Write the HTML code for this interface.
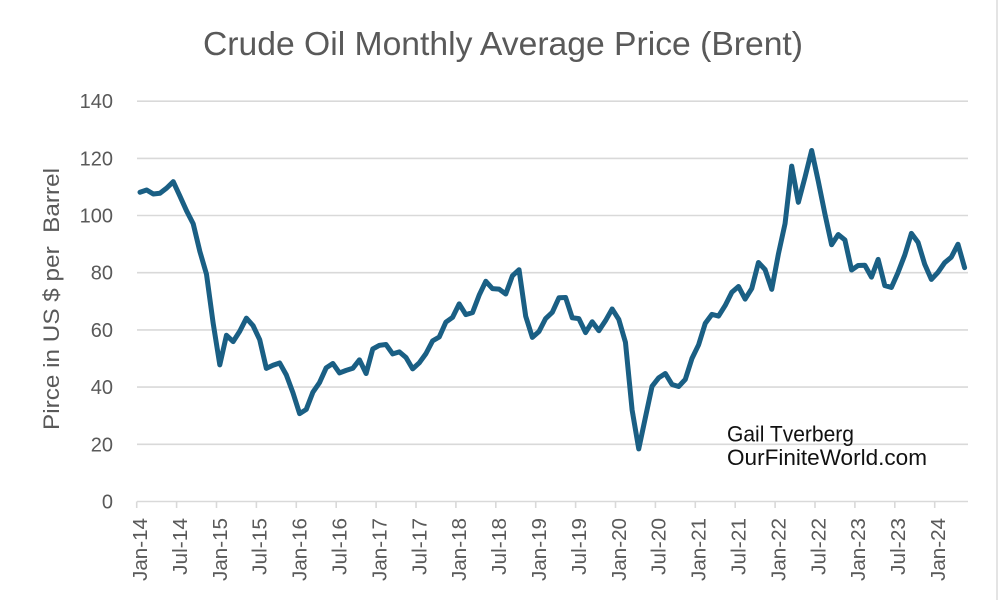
<!DOCTYPE html>
<html>
<head>
<meta charset="utf-8">
<style>
html,body{margin:0;padding:0;background:#fff;}
svg{display:block;}
text{font-family:"Liberation Sans",sans-serif;}
</style>
</head>
<body>
<svg width="1000" height="600" viewBox="0 0 1000 600" xmlns="http://www.w3.org/2000/svg">
<rect x="0" y="0" width="1000" height="600" fill="#fff"/>
<line x1="997" y1="0" x2="997" y2="600" stroke="#e4e4e4" stroke-width="2"/>
<text x="503" y="55" font-size="33" fill="#595959" text-anchor="middle" textLength="600" lengthAdjust="spacingAndGlyphs">Crude Oil Monthly Average Price (Brent)</text>
<g stroke="#d9d9d9" stroke-width="1.6">
<line x1="137" y1="101.2" x2="968" y2="101.2"/>
<line x1="137" y1="158.4" x2="968" y2="158.4"/>
<line x1="137" y1="215.5" x2="968" y2="215.5"/>
<line x1="137" y1="272.7" x2="968" y2="272.7"/>
<line x1="137" y1="329.9" x2="968" y2="329.9"/>
<line x1="137" y1="387.1" x2="968" y2="387.1"/>
<line x1="137" y1="444.3" x2="968" y2="444.3"/>
<line x1="137" y1="501.5" x2="968" y2="501.5"/>
<line x1="136.7" y1="501.5" x2="136.7" y2="508"/>
<line x1="176.6" y1="501.5" x2="176.6" y2="508"/>
<line x1="216.5" y1="501.5" x2="216.5" y2="508"/>
<line x1="256.4" y1="501.5" x2="256.4" y2="508"/>
<line x1="296.3" y1="501.5" x2="296.3" y2="508"/>
<line x1="336.2" y1="501.5" x2="336.2" y2="508"/>
<line x1="376.1" y1="501.5" x2="376.1" y2="508"/>
<line x1="416.0" y1="501.5" x2="416.0" y2="508"/>
<line x1="455.9" y1="501.5" x2="455.9" y2="508"/>
<line x1="495.8" y1="501.5" x2="495.8" y2="508"/>
<line x1="535.7" y1="501.5" x2="535.7" y2="508"/>
<line x1="575.6" y1="501.5" x2="575.6" y2="508"/>
<line x1="615.5" y1="501.5" x2="615.5" y2="508"/>
<line x1="655.4" y1="501.5" x2="655.4" y2="508"/>
<line x1="695.3" y1="501.5" x2="695.3" y2="508"/>
<line x1="735.2" y1="501.5" x2="735.2" y2="508"/>
<line x1="775.1" y1="501.5" x2="775.1" y2="508"/>
<line x1="815.0" y1="501.5" x2="815.0" y2="508"/>
<line x1="854.9" y1="501.5" x2="854.9" y2="508"/>
<line x1="894.8" y1="501.5" x2="894.8" y2="508"/>
<line x1="934.7" y1="501.5" x2="934.7" y2="508"/>
</g>
<g font-size="20" fill="#595959" text-anchor="end">
<text x="113" y="108.2">140</text>
<text x="113" y="165.4">120</text>
<text x="113" y="222.5">100</text>
<text x="113" y="279.7">80</text>
<text x="113" y="336.9">60</text>
<text x="113" y="394.1">40</text>
<text x="113" y="451.3">20</text>
<text x="113" y="508.5">0</text>
</g>
<text transform="translate(59,299) rotate(-90)" font-size="22" fill="#595959" text-anchor="middle" textLength="262" lengthAdjust="spacingAndGlyphs" xml:space="preserve">Pirce in US $ per  Barrel</text>
<g font-size="20" fill="#595959" text-anchor="end">
<text transform="translate(147,518) rotate(-90)" textLength="63" lengthAdjust="spacingAndGlyphs">Jan-14</text>
<text transform="translate(186.9,518) rotate(-90)" textLength="57" lengthAdjust="spacingAndGlyphs">Jul-14</text>
<text transform="translate(226.8,518) rotate(-90)" textLength="63" lengthAdjust="spacingAndGlyphs">Jan-15</text>
<text transform="translate(266.7,518) rotate(-90)" textLength="57" lengthAdjust="spacingAndGlyphs">Jul-15</text>
<text transform="translate(306.6,518) rotate(-90)" textLength="63" lengthAdjust="spacingAndGlyphs">Jan-16</text>
<text transform="translate(346.5,518) rotate(-90)" textLength="57" lengthAdjust="spacingAndGlyphs">Jul-16</text>
<text transform="translate(386.4,518) rotate(-90)" textLength="63" lengthAdjust="spacingAndGlyphs">Jan-17</text>
<text transform="translate(426.3,518) rotate(-90)" textLength="57" lengthAdjust="spacingAndGlyphs">Jul-17</text>
<text transform="translate(466.2,518) rotate(-90)" textLength="63" lengthAdjust="spacingAndGlyphs">Jan-18</text>
<text transform="translate(506.1,518) rotate(-90)" textLength="57" lengthAdjust="spacingAndGlyphs">Jul-18</text>
<text transform="translate(546.0,518) rotate(-90)" textLength="63" lengthAdjust="spacingAndGlyphs">Jan-19</text>
<text transform="translate(585.9,518) rotate(-90)" textLength="57" lengthAdjust="spacingAndGlyphs">Jul-19</text>
<text transform="translate(625.8,518) rotate(-90)" textLength="63" lengthAdjust="spacingAndGlyphs">Jan-20</text>
<text transform="translate(665.7,518) rotate(-90)" textLength="57" lengthAdjust="spacingAndGlyphs">Jul-20</text>
<text transform="translate(705.6,518) rotate(-90)" textLength="63" lengthAdjust="spacingAndGlyphs">Jan-21</text>
<text transform="translate(745.5,518) rotate(-90)" textLength="57" lengthAdjust="spacingAndGlyphs">Jul-21</text>
<text transform="translate(785.4,518) rotate(-90)" textLength="63" lengthAdjust="spacingAndGlyphs">Jan-22</text>
<text transform="translate(825.3,518) rotate(-90)" textLength="57" lengthAdjust="spacingAndGlyphs">Jul-22</text>
<text transform="translate(865.2,518) rotate(-90)" textLength="63" lengthAdjust="spacingAndGlyphs">Jan-23</text>
<text transform="translate(905.1,518) rotate(-90)" textLength="57" lengthAdjust="spacingAndGlyphs">Jul-23</text>
<text transform="translate(945.0,518) rotate(-90)" textLength="63" lengthAdjust="spacingAndGlyphs">Jan-24</text>
</g>
<g transform="translate(140,501.5) scale(6.65,-2.8607)">
<polyline fill="none" stroke="#1a5f84" stroke-width="5" stroke-linejoin="round" stroke-linecap="round" vector-effect="non-scaling-stroke" points="
0,108.12 1,108.90 2,107.48 3,107.76 4,109.54 5,111.80 6,106.77 7,101.61 8,97.09 9,87.43 10,79.44 11,62.34
12,47.76 13,58.10 14,55.89 15,59.52 16,64.08 17,61.48 18,56.56 19,46.52 20,47.62 21,48.43 22,44.27 23,38.01
24,30.70 25,32.18 26,38.21 27,41.58 28,46.74 29,48.25 30,44.95 31,45.84 32,46.57 33,49.52 34,44.73 35,53.31
36,54.58 37,54.87 38,51.59 39,52.31 40,50.33 41,46.37 42,48.48 43,51.70 44,56.15 45,57.51 46,62.71 47,64.37
48,69.08 49,65.32 50,66.02 51,72.11 52,76.98 53,74.41 54,74.25 55,72.53 56,78.89 57,81.03 58,64.75 59,57.36
60,59.41 61,63.96 62,66.14 63,71.23 64,71.32 65,64.22 66,63.92 67,59.04 68,62.83 69,59.71 70,63.21 71,67.31
72,63.65 73,55.66 74,32.01 75,18.38 76,29.38 77,40.27 78,43.24 79,44.74 80,40.91 81,40.19 82,42.69 83,49.99
84,54.77 85,62.28 86,65.41 87,64.81 88,68.53 89,73.16 90,75.17 91,70.75 92,74.49 93,83.54 94,81.05 95,74.17
96,86.51 97,97.13 98,117.25 99,104.58 100,113.34 101,122.71 102,111.93 103,100.45 104,89.76 105,93.33 106,91.42 107,80.92
108,82.50 109,82.59 110,78.43 111,84.64 112,75.47 113,74.84 114,80.11 115,86.15 116,93.72 117,90.60 118,82.94 119,77.63
120,80.12 121,83.48 122,85.41 123,89.94 124,81.75"/>
</g>
<g font-size="22" fill="#111">
<text x="727" y="441.5" textLength="127" lengthAdjust="spacingAndGlyphs">Gail Tverberg</text>
<text x="727" y="465" textLength="200" lengthAdjust="spacingAndGlyphs">OurFiniteWorld.com</text>
</g>
</svg>
</body>
</html>
